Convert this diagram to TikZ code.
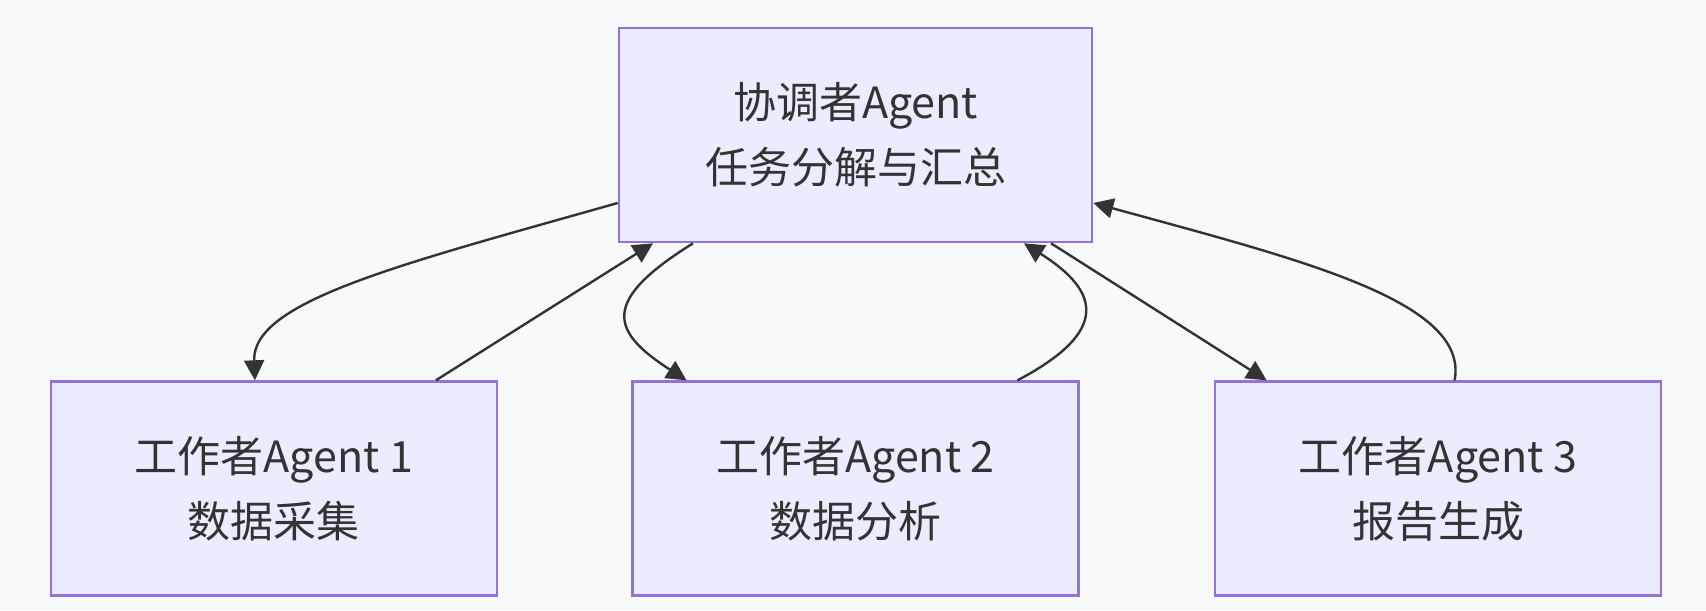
\documentclass[tikz,border=0pt]{standalone}
\usepackage{fontspec}
\setmainfont{Noto Sans CJK SC}
\usepackage{tikz}
\usetikzlibrary{
  positioning,
  arrows.meta
}
\definecolor{boxfill}{HTML}{ECECFF}
\definecolor{boxline}{HTML}{9370DB}
\definecolor{ink}{HTML}{333333}
\definecolor{bg}{HTML}{F8F9FA}

\begin{document}
\begin{tikzpicture}[x=0.5pt,y=-0.5pt,>={Triangle[length=10pt,width=10pt]},
    agent/.style={draw=boxline,line width=1.3pt,fill=boxfill,text=ink,align=center,
      minimum height=107pt,inner sep=0pt,font=\fontsize{21.5}{32.5}\selectfont},
    link/.style={->,draw=ink,line width=1.2pt}]
    \fill[bg] (0,0) rectangle (1706,610);
    \useasboundingbox (0,0) rectangle (1706,610);
    \node[agent,minimum width=236.5pt] (coord) at (855.5,135) {协调者Agent\\任务分解与汇总};
    \node[agent,minimum width=223pt,below=68.5pt of coord] (w2) {工作者Agent 2\\数据分析};
    \node[agent,minimum width=223pt,left=66.5pt of w2] (w1) {工作者Agent 1\\数据采集};
    \node[agent,minimum width=223pt,right=67pt of w2] (w3) {工作者Agent 3\\报告生成};
    \draw[link] ([yshift=-34pt]coord.west) .. controls +(-219,62) and +(-3,-79) .. ([xshift=-9.5pt]w1.north);
    \draw[link] ([xshift=81pt]w1.north) -- ([xshift=-101.25pt]coord.south);
    \draw[link] ([xshift=-81.25pt]coord.south) .. controls +(-93,58) and +(-76,-49) .. ([xshift=-84.5pt]w2.north);
    \draw[link] ([xshift=81pt]w2.north) .. controls +(93,-49) and +(76,48) .. ([xshift=84.25pt]coord.south);
    \draw[link] ([xshift=97.75pt]coord.south) -- ([xshift=-85.75pt]w3.north);
    \draw[link] ([xshift=8.25pt]w3.north) .. controls +(15,-79) and +(208,57) .. ([yshift=-34pt]coord.east);
  \end{tikzpicture}
\end{document}
